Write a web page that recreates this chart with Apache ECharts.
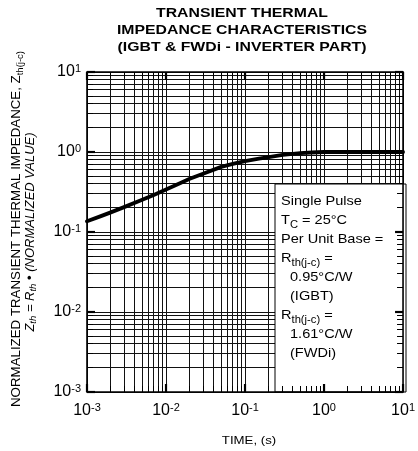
<!DOCTYPE html>
<html><head><meta charset="utf-8">
<script src="https://cdn.jsdelivr.net/npm/echarts@6/dist/echarts.min.js"></script>
<style>html,body{margin:0;padding:0;background:#fff}#c{width:418px;height:451px}</style>
</head><body><div id="c"></div>
<script>
// ---- data ----
const timeS   = [0.001, 0.0015, 0.002, 0.003, 0.005, 0.007, 0.01, 0.015, 0.02, 0.03, 0.05, 0.07, 0.1, 0.15, 0.2, 0.3, 0.5, 0.7, 1, 2, 5, 10];
const zthNorm = [0.136, 0.158, 0.176, 0.206, 0.253, 0.291, 0.340, 0.407, 0.463, 0.540, 0.652, 0.711, 0.771, 0.828, 0.865, 0.922, 0.966, 0.986, 1.0, 1.0, 1.0, 1.0];
const xTickExps = [-3, -2, -1, 0, 1];
const yTickExps = [-3, -2, -1, 0, 1];
const titleLines = ['TRANSIENT THERMAL', 'IMPEDANCE CHARACTERISTICS', '(IGBT & FWDi - INVERTER PART)'];
const noteLines = [
  {t: 'Single Pulse', ind: 0},
  {t: 'T{sub|C}{m| = 25°C}', ind: 0},
  {t: 'Per Unit Base =', ind: 0},
  {t: 'R{sub|th(j-c)}{m| =}', ind: 0},
  {t: '0.95°C/W', ind: 1},
  {t: '(IGBT)', ind: 1},
  {t: 'R{sub|th(j-c)}{m| =}', ind: 0},
  {t: '1.61°C/W', ind: 1},
  {t: '(FWDi)', ind: 1}
];
const xName = 'TIME, (s)';
const yName1 = '{m|NORMALIZED TRANSIENT THERMAL IMPEDANCE, Z}{sub|th(j-c)}';
const yName2 = '{m|Z}{sub|th}{m| = R}{sub|th}{m| • (NORMALIZED VALUE)}';

// ---- grid line values (1..9 per decade) ----
function decadeLines(e0, e1) {
  const out = [];
  for (let e = e0; e < e1; e++) for (let k = 1; k <= 9; k++) out.push([k * Math.pow(10, e), k === 1 ? 1 : 0]);
  out.push([Math.pow(10, e1), 1]);
  return out;
}
const vLines = decadeLines(xTickExps[0], xTickExps[xTickExps.length - 1]).map(d => [d[0], 1, d[1]]);
const hLines = decadeLines(yTickExps[0], yTickExps[yTickExps.length - 1]).map(d => [1, d[0], d[1]]);

const FONT = '"Liberation Sans", Arial, Helvetica, sans-serif';
const GC = '#111';

function expLabel(v, exps) {
  const e = Math.round(Math.log10(v));
  if (exps.indexOf(e) < 0) return '';
  return '{b|10}{s|' + e + '}';
}
const labelRich = {
  b: {fontSize: 16, fontFamily: FONT, color: '#000', lineHeight: 18},
  s: {fontSize: 11, fontFamily: FONT, color: '#000', lineHeight: 11, verticalAlign: 'top'}
};
const snap = v => Math.round(v - 0.5) + 0.5;

function gridV(params, api) {
  const cs = params.coordSys;
  const x = snap(api.coord([api.value(0), 1])[0]);
  return {type: 'line', shape: {x1: x, y1: cs.y, x2: x, y2: cs.y + cs.height}, style: {stroke: GC, lineWidth: 1}};
}
function gridH(params, api) {
  const cs = params.coordSys;
  const y = snap(api.coord([1, api.value(1)])[1]);
  return {type: 'line', shape: {x1: cs.x, y1: y, x2: cs.x + cs.width, y2: y}, style: {stroke: GC, lineWidth: 1}};
}
function tickV(params, api) {
  const cs = params.coordSys;
  const x = api.coord([api.value(0), 1])[0];
  const maj = api.value(2) === 1;
  const L = maj ? 8 : 6, w = maj ? 2.2 : 1;
  const xx = maj ? x : snap(x);
  return {type: 'group', children: [
    {type: 'line', shape: {x1: xx, y1: cs.y, x2: xx, y2: cs.y + L}, style: {stroke: '#000', lineWidth: w}},
    {type: 'line', shape: {x1: xx, y1: cs.y + cs.height, x2: xx, y2: cs.y + cs.height - L}, style: {stroke: '#000', lineWidth: w}}
  ]};
}
function tickH(params, api) {
  const cs = params.coordSys;
  const y = api.coord([1, api.value(1)])[1];
  const maj = api.value(2) === 1;
  const L = maj ? 8 : 6, w = maj ? 2.2 : 1;
  const yy = maj ? y : snap(y);
  return {type: 'group', children: [
    {type: 'line', shape: {x1: cs.x, y1: yy, x2: cs.x + L, y2: yy}, style: {stroke: '#000', lineWidth: w}},
    {type: 'line', shape: {x1: cs.x + cs.width, y1: yy, x2: cs.x + cs.width - L, y2: yy}, style: {stroke: '#000', lineWidth: w}}
  ]};
}

const graphics = [];
titleLines.forEach((t, i) => {
  graphics.push({type: 'text', x: 242, y: 13 + i * 17, scaleX: 1.17, z: 30,
    style: {text: t, font: 'bold 13.5px ' + FONT, fill: '#000', textAlign: 'center', textVerticalAlign: 'middle', align: 'center', verticalAlign: 'middle'}});
});
// note box
graphics.push({type: 'rect', shape: {x: 275, y: 184, width: 131, height: 208}, z: 5,
  style: {fill: '#fff', stroke: '#000', lineWidth: 1}});
const noteRich = {
  m: {fontSize: 13, fontFamily: FONT, lineHeight: 20, fill: '#000'},
  sub: {fontSize: 10, fontFamily: FONT, lineHeight: 10, verticalAlign: 'bottom', fill: '#000'}
};
noteLines.forEach((n, i) => {
  const txt = n.t.indexOf('{') >= 0 ? n.t.replace(/^([^{]+)/, '{m|$1}') : '{m|' + n.t + '}';
  graphics.push({type: 'text', x: 281 + n.ind * 9, y: 201 + i * 19, scaleX: 1.12, z: 6,
    style: {text: txt, font: '13px ' + FONT, fill: '#000', textVerticalAlign: 'middle', verticalAlign: 'middle', rich: noteRich}});
});
// axis names
graphics.push({type: 'text', x: 249, y: 441, scaleX: 1.15, z: 30,
  style: {text: xName, font: '11.5px ' + FONT, fill: '#000', textAlign: 'center', textVerticalAlign: 'middle', align: 'center', verticalAlign: 'middle'}});
graphics.push({type: 'text', x: 16, y: 229, rotation: Math.PI / 2, z: 30,
  style: {text: yName1, font: '13px ' + FONT, fill: '#000', textAlign: 'center', textVerticalAlign: 'middle', align: 'center', verticalAlign: 'middle',
    rich: {m: {fontSize: 13.3, fontFamily: FONT, lineHeight: 18, fill: '#000'},
           sub: {fontSize: 9.5, fontFamily: FONT, lineHeight: 9, verticalAlign: 'bottom', fill: '#000'}}}});
graphics.push({type: 'text', x: 30, y: 232, rotation: Math.PI / 2, z: 30,
  style: {text: yName2, font: 'italic 13px ' + FONT, fill: '#000', textAlign: 'center', textVerticalAlign: 'middle', align: 'center', verticalAlign: 'middle',
    rich: {m: {fontSize: 13, fontStyle: 'italic', fontFamily: FONT, lineHeight: 16, fill: '#000'},
           sub: {fontSize: 9.5, fontStyle: 'italic', fontFamily: FONT, lineHeight: 9, verticalAlign: 'bottom', fill: '#000'}}}});

const chart = echarts.init(document.getElementById('c'), null, {renderer: 'canvas'});
chart.setOption({
  animation: false,
  backgroundColor: '#fff',
  grid: {left: 87, right: 12, top: 72, bottom: 59, show: true, borderColor: '#000', borderWidth: 1.6, backgroundColor: 'transparent', z: 20},
  xAxis: {type: 'log', logBase: 10, min: 0.001, max: 10, splitNumber: 4,
    axisLine: {show: false}, axisTick: {show: false}, splitLine: {show: false}, minorTick: {show: false},
    axisLabel: {margin: 10, formatter: v => expLabel(v, xTickExps), rich: labelRich, showMinLabel: true, showMaxLabel: true}},
  yAxis: {type: 'log', logBase: 10, min: 0.001, max: 10, splitNumber: 4,
    axisLine: {show: false}, axisTick: {show: false}, splitLine: {show: false}, minorTick: {show: false},
    axisLabel: {margin: 6, formatter: v => expLabel(v, yTickExps), rich: labelRich, showMinLabel: true, showMaxLabel: true}},
  graphic: graphics,
  series: [
    {type: 'custom', z: 1, silent: true, renderItem: gridV, data: vLines, encode: {x: 0, y: 1}},
    {type: 'custom', z: 1, silent: true, renderItem: gridH, data: hLines, encode: {x: 0, y: 1}},
    {type: 'line', z: 3, data: timeS.map((t, i) => [t, zthNorm[i]]), smooth: false, showSymbol: false,
      lineStyle: {color: '#000', width: 3.8, cap: 'round', join: 'round'}},
    {type: 'custom', z: 10, silent: true, renderItem: tickV, data: vLines, encode: {x: 0, y: 1}},
    {type: 'custom', z: 10, silent: true, renderItem: tickH, data: hLines, encode: {x: 0, y: 1}}
  ]
});
</script></body></html>
